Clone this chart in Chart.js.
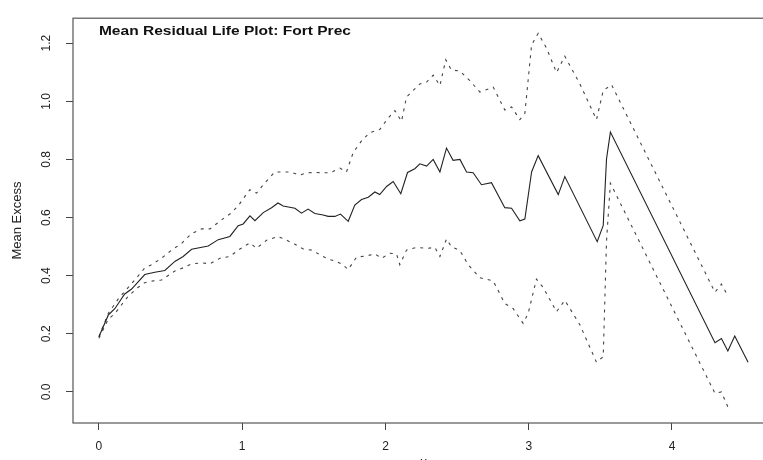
<!DOCTYPE html>
<html>
<head>
<meta charset="utf-8">
<script src="https://cdn.jsdelivr.net/npm/chart.js@4/dist/chart.umd.min.js"></script>
<style>
  html, body { margin: 0; padding: 0; background: #fff; overflow: hidden; width: 763px; height: 460px; }
</style>
</head>
<body>
<canvas id="mrl" width="774" height="470"></canvas>
<script>
// threshold u and mean excess
const meanU = [0, 0.065, 0.112, 0.18, 0.228, 0.32, 0.39, 0.46, 0.53, 0.588, 0.647, 0.763, 0.833, 0.914, 0.972, 1.007, 1.054, 1.089, 1.147, 1.205, 1.25, 1.286, 1.368, 1.414, 1.46, 1.507, 1.565, 1.6, 1.647, 1.686, 1.74, 1.786, 1.833, 1.88, 1.926, 1.96, 2.008, 2.054, 2.107, 2.154, 2.205, 2.24, 2.287, 2.333, 2.38, 2.426, 2.472, 2.52, 2.566, 2.612, 2.67, 2.74, 2.833, 2.88, 2.938, 2.973, 3.02, 3.066, 3.206, 3.252, 3.478, 3.52, 3.543, 3.57, 4.3, 4.345, 4.39, 4.438, 4.531];
const meanE = [0.19, 0.264, 0.287, 0.337, 0.354, 0.404, 0.412, 0.418, 0.449, 0.466, 0.491, 0.502, 0.524, 0.535, 0.572, 0.578, 0.606, 0.589, 0.617, 0.634, 0.65, 0.64, 0.632, 0.615, 0.629, 0.614, 0.609, 0.604, 0.604, 0.612, 0.587, 0.643, 0.662, 0.67, 0.688, 0.679, 0.707, 0.724, 0.682, 0.755, 0.768, 0.785, 0.777, 0.8, 0.757, 0.839, 0.797, 0.8, 0.757, 0.754, 0.713, 0.72, 0.634, 0.632, 0.589, 0.595, 0.757, 0.813, 0.679, 0.741, 0.517, 0.573, 0.802, 0.894, 0.169, 0.184, 0.141, 0.192, 0.102];

// upper confidence band
const upU = [0, 0.065, 0.135, 0.205, 0.274, 0.32, 0.368, 0.437, 0.507, 0.577, 0.647, 0.717, 0.775, 0.856, 0.914, 0.972, 1.019, 1.054, 1.1, 1.147, 1.228, 1.263, 1.333, 1.403, 1.449, 1.496, 1.612, 1.682, 1.728, 1.775, 1.833, 1.89, 1.96, 2.019, 2.066, 2.112, 2.147, 2.193, 2.24, 2.287, 2.333, 2.38, 2.421, 2.46, 2.52, 2.589, 2.659, 2.752, 2.833, 2.88, 2.938, 2.973, 3.02, 3.066, 3.124, 3.194, 3.252, 3.357, 3.473, 3.52, 3.578, 4.3, 4.345, 4.39];
const upE = [0.19, 0.27, 0.32, 0.36, 0.399, 0.427, 0.438, 0.46, 0.488, 0.511, 0.545, 0.561, 0.561, 0.592, 0.612, 0.64, 0.673, 0.696, 0.684, 0.713, 0.757, 0.757, 0.757, 0.746, 0.754, 0.755, 0.754, 0.77, 0.757, 0.824, 0.864, 0.892, 0.903, 0.942, 0.968, 0.931, 1.015, 1.037, 1.06, 1.066, 1.09, 1.054, 1.143, 1.108, 1.104, 1.071, 1.032, 1.049, 0.97, 0.981, 0.937, 0.959, 1.194, 1.234, 1.183, 1.099, 1.155, 1.06, 0.937, 1.037, 1.057, 0.343, 0.371, 0.331];

// lower confidence band
const loU = [0, 0.065, 0.112, 0.158, 0.205, 0.274, 0.32, 0.379, 0.437, 0.53, 0.588, 0.647, 0.717, 0.775, 0.845, 0.914, 0.972, 1.054, 1.1, 1.17, 1.25, 1.31, 1.368, 1.426, 1.484, 1.542, 1.6, 1.659, 1.7, 1.74, 1.798, 1.868, 1.926, 1.973, 2.031, 2.077, 2.1, 2.147, 2.217, 2.287, 2.345, 2.38, 2.426, 2.46, 2.52, 2.577, 2.659, 2.752, 2.833, 2.891, 2.961, 2.996, 3.054, 3.1, 3.194, 3.252, 3.357, 3.473, 3.52, 3.543, 3.57, 4.3, 4.345, 4.39];
const loE = [0.185, 0.25, 0.27, 0.3, 0.33, 0.36, 0.376, 0.382, 0.385, 0.416, 0.427, 0.441, 0.444, 0.441, 0.46, 0.466, 0.488, 0.513, 0.494, 0.522, 0.535, 0.522, 0.508, 0.492, 0.488, 0.472, 0.457, 0.449, 0.438, 0.421, 0.464, 0.468, 0.475, 0.46, 0.477, 0.475, 0.438, 0.488, 0.497, 0.494, 0.497, 0.466, 0.526, 0.5, 0.486, 0.438, 0.393, 0.382, 0.304, 0.287, 0.236, 0.27, 0.388, 0.36, 0.276, 0.315, 0.231, 0.102, 0.121, 0.52, 0.718, -0.005, 0.0, -0.052];

const xTicks = [0, 1, 2, 3, 4];
const yTicks = [0, 0.2, 0.4, 0.6, 0.8, 1.0, 1.2];

function pts(xs, ys) {
    return xs.map(function(x, i) { return {x: x, y: ys[i]}; });
}

const boxPlugin = {
    id: "box",
    afterDraw(chart) {
        const ctx = chart.ctx;
        const a = chart.chartArea;
        ctx.save();
        ctx.strokeStyle = "#555";
        ctx.lineWidth = 1.2;
        ctx.strokeRect(a.left, a.top, a.right - a.left, a.bottom - a.top);
        // title inside the plot, R style
        const txt = "Mean Residual Life Plot: Fort Prec";
        ctx.font = "bold 13px 'Liberation Sans', Arial, sans-serif";
        ctx.fillStyle = "#111";
        ctx.textBaseline = "middle";
        const w = ctx.measureText(txt).width;
        ctx.translate(chart.scales.x.getPixelForValue(0), 31);
        ctx.scale(252 / w, 1);
        ctx.fillText(txt, 0, 0);
        ctx.restore();
    }
};

const solid = "#222";
const dash = "#444";

new Chart("mrl", {
    type: "line",
    data: {
        datasets: [
            { label: "mean", data: pts(meanU, meanE), borderColor: solid, borderWidth: 1.1 },
            { label: "upper", data: pts(upU, upE), borderColor: dash, borderWidth: 1.1, borderDash: [3, 5] },
            { label: "lower", data: pts(loU, loE), borderColor: dash, borderWidth: 1.1, borderDash: [3, 5] }
        ]
    },
    options: {
        responsive: false,
        animation: false,
        devicePixelRatio: 1,
        elements: { point: { radius: 0 }, line: { tension: 0, fill: false } },
        layout: { padding: { top: 10, right: 0, left: 0, bottom: 0 } },
        plugins: { legend: { display: false }, tooltip: { enabled: false } },
        scales: {
            x: {
                type: "linear",
                min: -0.181,
                max: 4.712,
                afterBuildTicks: function(s) { s.ticks = xTicks.map(function(v) { return {value: v}; }); },
                afterFit: function(s) { s.height = 47; },
                border: { display: false },
                grid: { drawOnChartArea: false, drawTicks: true, tickLength: 7, tickColor: "#444", tickWidth: 1 },
                ticks: {
                    color: "#222",
                    padding: 9,
                    maxRotation: 0,
                    font: { family: "'Liberation Sans', Arial, sans-serif", size: 12 },
                    callback: function(v) { return String(v); }
                },
                title: {
                    display: true,
                    text: "u",
                    color: "#222",
                    padding: { top: 0, bottom: 0 },
                    font: { family: "'Liberation Sans', Arial, sans-serif", size: 13 }
                }
            },
            y: {
                min: -0.107,
                max: 1.286,
                afterBuildTicks: function(s) { s.ticks = yTicks.map(function(v) { return {value: v}; }); },
                afterFit: function(s) { s.width = 73; },
                border: { display: false },
                grid: { drawOnChartArea: false, drawTicks: true, tickLength: 7, tickColor: "#444", tickWidth: 1 },
                ticks: {
                    color: "#222",
                    padding: 11,
                    minRotation: 90,
                    maxRotation: 90,
                    crossAlign: "center",
                    font: { family: "'Liberation Sans', Arial, sans-serif", size: 12 },
                    callback: function(v) { return v.toFixed(1); }
                },
                title: {
                    display: true,
                    text: "Mean Excess",
                    color: "#222",
                    padding: { top: 10, bottom: 0 },
                    font: { family: "'Liberation Sans', Arial, sans-serif", size: 13 }
                }
            }
        }
    },
    plugins: [boxPlugin]
});
</script>
</body>
</html>
